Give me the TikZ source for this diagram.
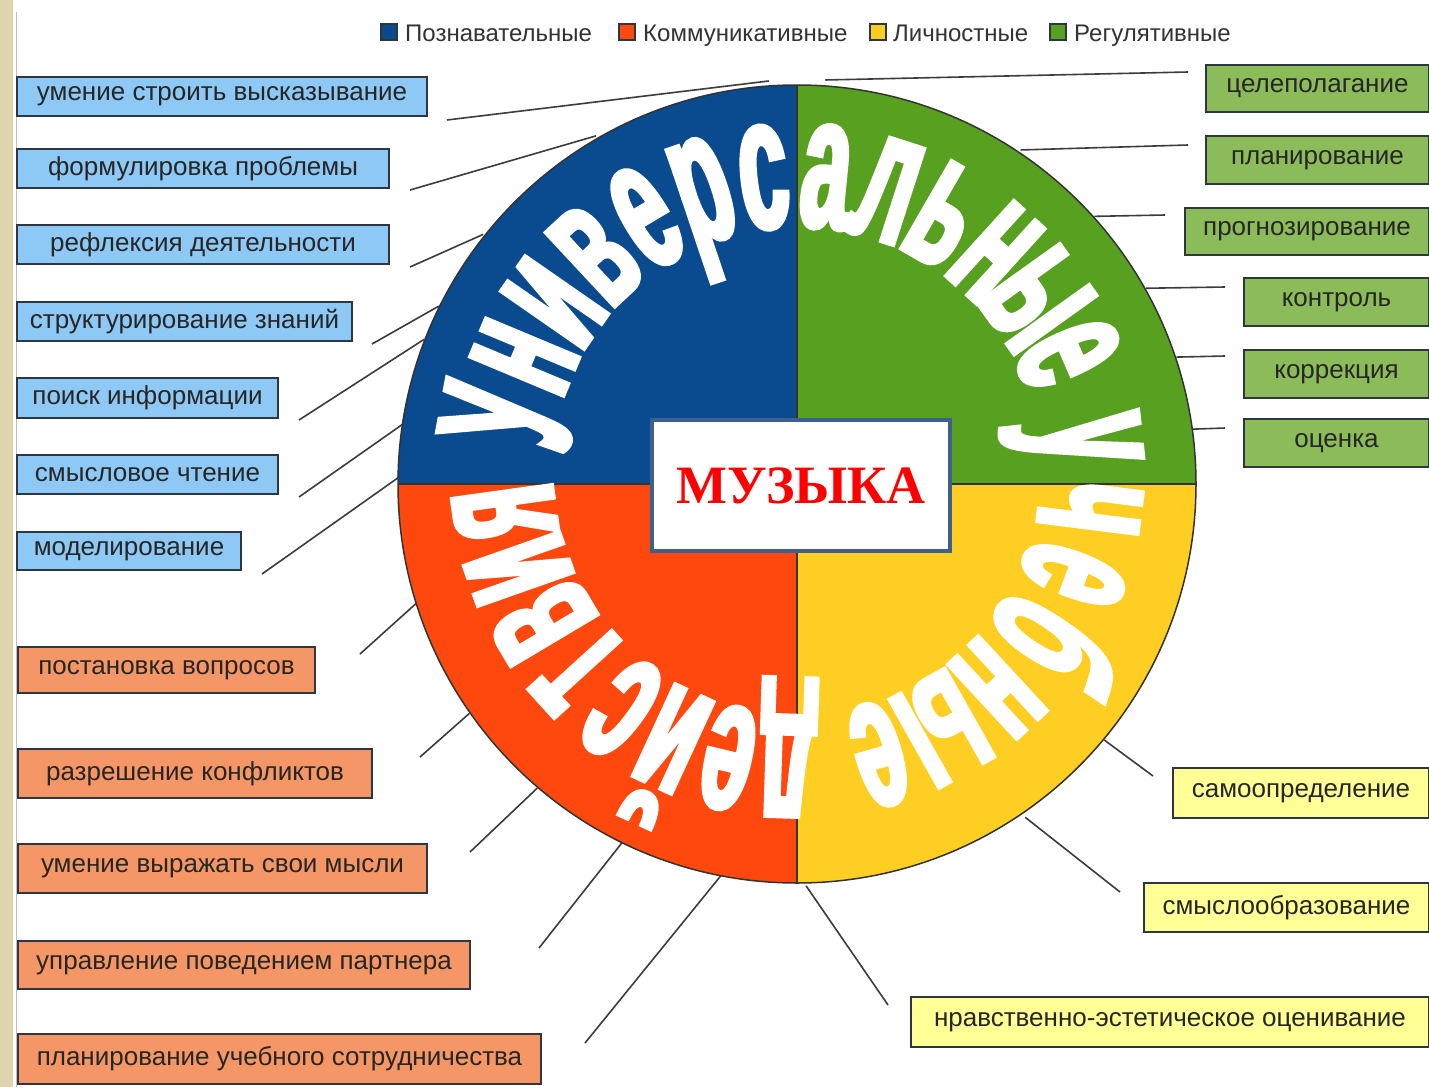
\documentclass[tikz,border=0pt]{standalone}
\usepackage{fontspec}
\setmainfont{Liberation Sans}
\newfontfamily\wafont[FakeStretch=0.46,FakeBold=2.5]{Liberation Sans}
\newfontfamily\mufont{Liberation Serif}

\definecolor{cogblue}{RGB}{10,74,142}
\definecolor{comred}{RGB}{255,72,14}
\definecolor{peryellow}{RGB}{255,206,34}
\definecolor{reggreen}{RGB}{88,160,32}
\definecolor{cogfill}{RGB}{142,200,245}
\definecolor{comfill}{RGB}{245,150,102}
\definecolor{perfill}{RGB}{255,255,150}
\definecolor{regfill}{RGB}{140,187,90}
\definecolor{boxline}{RGB}{45,55,65}
\definecolor{leadgray}{RGB}{60,60,60}
\definecolor{muframe}{RGB}{62,96,145}
\definecolor{mured}{RGB}{255,0,0}
\definecolor{paper}{RGB}{222,213,175}

\begin{document}
\begin{tikzpicture}[x=1pt,y=1pt,
    item/.style={draw=boxline, line width=2pt, inner sep=0pt, anchor=north west,
      text=black!85, font=\fontsize{26}{26}\selectfont},
    cogbox/.style={item, fill=cogfill},
    combox/.style={item, fill=comfill},
    perbox/.style={item, fill=perfill},
    regbox/.style={item, fill=regfill},
    lead/.style={draw=leadgray, line width=1.6pt},
    lgsq/.style={draw=boxline, line width=1.2pt, minimum size=16pt, inner sep=0pt},
    lgtext/.style={anchor=base west, inner sep=0pt, text=black!80,
      font=\fontsize{24}{24}\selectfont},
    wa/.style={anchor=base, inner sep=0pt, text=white,
      font=\wafont\bfseries\fontsize{190}{190}\selectfont},
    mubox/.style={draw=muframe, line width=4pt, fill=white, inner sep=0pt,
      minimum width=298pt, minimum height=131pt, text=mured,
      font=\mufont\bfseries\fontsize{54}{54}\selectfont}]
    \useasboundingbox (0,0) rectangle (1429,-1087);
    \fill[white] (0,0) rectangle (1429,-1087);
    \fill[paper] (0,0) rectangle (13,-1087);
    \draw[black!25, line width=1pt] (16,-12) -- (16,-1087);

    % legend
    \node[lgsq, fill=cogblue] (sq1) at (389,-32) {};
    \node[lgtext] (lg1) at (405,-41) {Познавательные};
    \node[lgsq, fill=comred] (sq2) at (627,-32) {};
    \node[lgtext] (lg2) at (643,-41) {Коммуникативные};
    \node[lgsq, fill=peryellow] (sq3) at (878,-32) {};
    \node[lgtext] (lg3) at (893,-41) {Личностные};
    \node[lgsq, fill=reggreen] (sq4) at (1058,-32) {};
    \node[lgtext] (lg4) at (1074,-41) {Регулятивные};

    % cognitive
    \node[cogbox, minimum width=410pt, minimum height=39pt] (cog1) at (16,-76) {умение строить высказывание};
    \node[cogbox, minimum width=372pt, minimum height=39pt] (cog2) at (16,-148) {формулировка проблемы};
    \node[cogbox, minimum width=372pt, minimum height=39pt] (cog3) at (16,-224) {рефлексия деятельности};
    \node[cogbox, minimum width=335pt, minimum height=39pt] (cog4) at (16,-301) {структурирование знаний};
    \node[cogbox, minimum width=261pt, minimum height=40pt] (cog5) at (16,-377) {поиск информации};
    \node[cogbox, minimum width=261pt, minimum height=39pt] (cog6) at (16,-454) {смысловое чтение};
    \node[cogbox, minimum width=224pt, minimum height=38pt] (cog7) at (16,-531) {моделирование};

    % communicative
    \node[combox, minimum width=297pt, minimum height=46pt] (com1) at (17,-646) {постановка вопросов};
    \node[combox, minimum width=354pt, minimum height=49pt] (com2) at (17,-748) {разрешение конфликтов};
    \node[combox, minimum width=409pt, minimum height=49pt] (com3) at (17,-843) {умение выражать свои мысли};
    \node[combox, minimum width=452pt, minimum height=48pt] (com4) at (17,-940) {управление поведением партнера};
    \node[combox, minimum width=523pt, minimum height=50pt] (com5) at (17,-1033) {планирование учебного сотрудничества};

    % regulative
    \node[regbox, minimum width=223pt, minimum height=47pt] (reg1) at (1205,-64) {целеполагание};
    \node[regbox, minimum width=223pt, minimum height=48pt] (reg2) at (1205,-135) {планирование};
    \node[regbox, minimum width=244pt, minimum height=47pt] (reg3) at (1184,-207) {прогнозирование};
    \node[regbox, minimum width=185pt, minimum height=48pt] (reg4) at (1243,-277) {контроль};
    \node[regbox, minimum width=185pt, minimum height=48pt] (reg5) at (1243,-349) {коррекция};
    \node[regbox, minimum width=185pt, minimum height=48pt] (reg6) at (1243,-418) {оценка};

    % personal
    \node[perbox, minimum width=256pt, minimum height=50pt] (per1) at (1172,-767) {самоопределение};
    \node[perbox, minimum width=285pt, minimum height=49pt] (per2) at (1143,-882) {смыслообразование};
    \node[perbox, minimum width=518pt, minimum height=50pt] (per3) at (910,-996) {нравственно-эстетическое оценивание};

    % leader lines
    \coordinate (wc) at (797,-484);
    \draw[lead] ([shift={(19,-3)}]cog1.south east) -- ([shift={(94:404)}]wc);
    \draw[lead] ([shift={(20,-1)}]cog2.south east) -- ([shift={(120:402)}]wc);
    \draw[lead] ([shift={(20,-2)}]cog3.south east) -- ([shift={(141.5:401)}]wc);
    \draw[lead] ([shift={(19,-2)}]cog4.south east) -- ([shift={(153.6:400)}]wc);
    \draw[lead] ([shift={(20,-1)}]cog5.south east) -- ([shift={(158.8:400)}]wc);
    \draw[lead] ([shift={(20,-2)}]cog6.south east) -- ([shift={(171.4:399)}]wc);
    \draw[lead] ([shift={(20,-3)}]cog7.south east) -- ([shift={(179:398)}]wc);
    \draw[lead] ([shift={(44,-8)}]com1.north east) -- ([shift={(197.4:399)}]wc);
    \draw[lead] ([shift={(47,-9)}]com2.north east) -- ([shift={(215:400)}]wc);
    \draw[lead] ([shift={(42,-9)}]com3.north east) -- ([shift={(229.5:400)}]wc);
    \draw[lead] ([shift={(68,-8)}]com4.north east) -- ([shift={(244:399)}]wc);
    \draw[lead] ([shift={(43,-10)}]com5.north east) -- ([shift={(259:399)}]wc);
    \draw[lead] ([shift={(-17,-8)}]reg1.north west) -- ([shift={(86:405)}]wc);
    \draw[lead] ([shift={(-17,-10)}]reg2.north west) -- ([shift={(56.2:402)}]wc);
    \draw[lead] ([shift={(-19,-8)}]reg3.north west) -- ([shift={(42:400)}]wc);
    \draw[lead] ([shift={(-18,-10)}]reg4.north west) -- ([shift={(29.3:400)}]wc);
    \draw[lead] ([shift={(-18,-7)}]reg5.north west) -- ([shift={(18.5:400)}]wc);
    \draw[lead] ([shift={(-18,-10)}]reg6.north west) -- ([shift={(7.9:399)}]wc);
    \draw[lead] ([shift={(-19,-9)}]per1.north west) -- ([shift={(320.2:400)}]wc);
    \draw[lead] ([shift={(-23,-10)}]per2.north west) -- ([shift={(304.4:404)}]wc);
    \draw[lead] ([shift={(-22,-9)}]per3.north west) -- ([shift={(271.3:402)}]wc);

    % wheel
    \begin{scope}[shift={(797,-484)}]
      \fill[cogblue] (0,0) -- (180:399) arc[start angle=180, end angle=90, radius=399] -- cycle;
      \fill[reggreen] (0,0) -- (90:399) arc[start angle=90, end angle=0, radius=399] -- cycle;
      \fill[peryellow] (0,0) -- (0:399) arc[start angle=0, end angle=-90, radius=399] -- cycle;
      \fill[comred] (0,0) -- (-90:399) arc[start angle=-90, end angle=-180, radius=399] -- cycle;
      \draw[line width=1.5pt, black!80] (0,0) circle (399);
      \draw[line width=1.5pt, black!80] (-399,0) -- (399,0) (0,399) -- (0,-399);
    \end{scope}

    % curved title
    \begin{scope}[shift={(797,-471)}]
      \node[wa, rotate=79.5] (t1) at (169.5:230) {У};
      \node[wa, rotate=67.3] (t2) at (157.3:245) {н};
      \node[wa, rotate=55.2] (t3) at (145.2:245) {и};
      \node[wa, rotate=43.0] (t4) at (133.0:245) {в};
      \node[wa, rotate=30.8] (t5) at (120.8:245) {е};
      \node[wa, rotate=18.6] (t6) at (108.6:245) {р};
      \node[wa, rotate=6.5] (t7) at (96.5:245) {с};
      \node[wa, rotate=-5.7] (t8) at (84.3:245) {а};
      \node[wa, rotate=-17.9] (t9) at (72.1:245) {л};
      \node[wa, rotate=-30.0] (t10) at (60.0:245) {ь};
      \node[wa, rotate=-42.2] (t11) at (47.8:245) {н};
      \node[wa, rotate=-54.4] (t12) at (35.6:245) {ы};
      \node[wa, rotate=-66.6] (t13) at (23.4:245) {е};
      \node[wa, rotate=-83.8] (t14) at (6.2:245) {у};
      \node[wa, rotate=-97.2] (t15) at (-7.2:245) {ч};
      \node[wa, rotate=-110.5] (t16) at (-20.5:245) {е};
      \node[wa, rotate=-123.9] (t17) at (-33.9:245) {б};
      \node[wa, rotate=-137.2] (t18) at (-47.2:245) {н};
      \node[wa, rotate=-150.6] (t19) at (-60.6:245) {ы};
      \node[wa, rotate=-163.9] (t20) at (-73.9:245) {е};
      \node[wa, rotate=-181.9] (t21) at (-91.9:245) {д};
      \node[wa, rotate=-193.4] (t22) at (-103.4:245) {е};
      \node[wa, rotate=-204.8] (t23) at (-114.8:245) {й};
      \node[wa, rotate=-216.3] (t24) at (-126.3:245) {с};
      \node[wa, rotate=-227.7] (t25) at (-137.7:245) {т};
      \node[wa, rotate=-239.2] (t26) at (-149.2:245) {в};
      \node[wa, rotate=-250.6] (t27) at (-160.6:245) {и};
      \node[wa, rotate=-262.1] (t28) at (-172.1:245) {я};
    \end{scope}

    % centre
    \node[mubox] (music) at (801,-485.5) {МУЗЫКА};
\end{tikzpicture}
\end{document}
